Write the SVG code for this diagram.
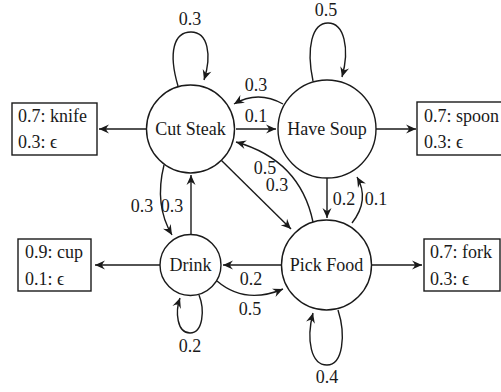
<svg xmlns="http://www.w3.org/2000/svg" width="501" height="392" viewBox="0 0 501 392">
<defs>
<marker id="ah" viewBox="-11 -6 12 12" refX="0" refY="0" markerWidth="12" markerHeight="12" markerUnits="userSpaceOnUse" orient="auto">
<path d="M0,0 L-10,-4.5 Q-7.5,-1.5 -7,0 Q-7.5,1.5 -10,4.5 Z" fill="#1a1a1a"/>
</marker>
<style>
.t{font-family:'Liberation Serif','Times New Roman',Times,serif;font-size:18px;fill:#1a1a1a}
.n{text-anchor:middle}
.c{fill:#fff;stroke:#1a1a1a;stroke-width:1.4}
.b{fill:#fff;stroke:#1a1a1a;stroke-width:1.4}
.e{fill:none;stroke:#1a1a1a;stroke-width:1.4;marker-end:url(#ah)}
</style>
</defs>
<rect width="501" height="392" fill="#fff"/>
<g id="connectors">
<path class="e" d="M147,129 L99,129"/>
<path class="e" d="M376,129 L416,129"/>
<path class="e" d="M160,265 L95,265"/>
<path class="e" d="M372,265 L422,265"/>
<path class="e" d="M178,86 C168,52 174,32 191,32 C208,32 212,55 204,80"/>
<path class="e" d="M313,81 C306,48 312,23 328,23 C344,23 350,48 342,77"/>
<path class="e" d="M199,295 C205,310 203,333 190,333 C177,333 175,312 180,298"/>
<path class="e" d="M338,310 C346,335 343,365 327,365 C311,365 306,340 313,313"/>
<path class="e" d="M236,129 L276,129"/>
<path class="e" d="M283,104 Q258,90 234,104"/>
<path class="e" d="M221,160 L291,229"/>
<path class="e" d="M313,222 Q300,160 236,142"/>
<path class="e" d="M327,178 L327,218"/>
<path class="e" d="M352,223 Q370,200 357,177"/>
<path class="e" d="M164,165 Q154,205 172,235"/>
<path class="e" d="M191,234 L191,175"/>
<path class="e" d="M281,265 L223,265"/>
<path class="e" d="M217,281 Q245,305 283,289"/>
<g class="t n">
<text x="190" y="25">0.3</text>
<text x="326" y="16">0.5</text>
<text x="190" y="352">0.2</text>
<text x="327" y="383">0.4</text>
<text x="256" y="91">0.3</text>
<text x="256" y="122">0.1</text>
<text x="265" y="174">0.5</text>
<text x="277" y="191">0.3</text>
<text x="344" y="205">0.2</text>
<text x="376" y="205">0.1</text>
<text x="142" y="212">0.3</text>
<text x="172" y="212">0.3</text>
<text x="251" y="285">0.2</text>
<text x="250" y="315">0.5</text>
</g>
</g>
<g id="cut-steak">
<circle class="c" cx="190.5" cy="129" r="44"/>
<text class="t n" x="190.5" y="135">Cut Steak</text>
</g>
<g id="have-soup">
<circle class="c" cx="327" cy="129" r="49"/>
<text class="t n" x="327" y="135">Have Soup</text>
</g>
<g id="drink">
<circle class="c" cx="190.5" cy="265" r="30.5"/>
<text class="t n" x="190.5" y="271">Drink</text>
</g>
<g id="pick-food">
<circle class="c" cx="326.5" cy="265" r="45"/>
<text class="t n" x="326.5" y="271">Pick Food</text>
</g>
<g id="knife-box">
<rect class="b" x="12" y="103" width="85" height="52"/>
<text class="t" x="18" y="122">0.7: knife</text>
<text class="t" x="18" y="148">0.3: ϵ</text>
</g>
<g id="spoon-box">
<rect class="b" x="417" y="102" width="95" height="53"/>
<text class="t" x="424" y="122">0.7: spoon</text>
<text class="t" x="424" y="148">0.3: ϵ</text>
</g>
<g id="cup-box">
<rect class="b" x="18" y="239" width="73" height="52"/>
<text class="t" x="25" y="258">0.9: cup</text>
<text class="t" x="25" y="285">0.1: ϵ</text>
</g>
<g id="fork-box">
<rect class="b" x="424" y="239" width="76" height="52"/>
<text class="t" x="430" y="258">0.7: fork</text>
<text class="t" x="430" y="285">0.3: ϵ</text>
</g>
</svg>
